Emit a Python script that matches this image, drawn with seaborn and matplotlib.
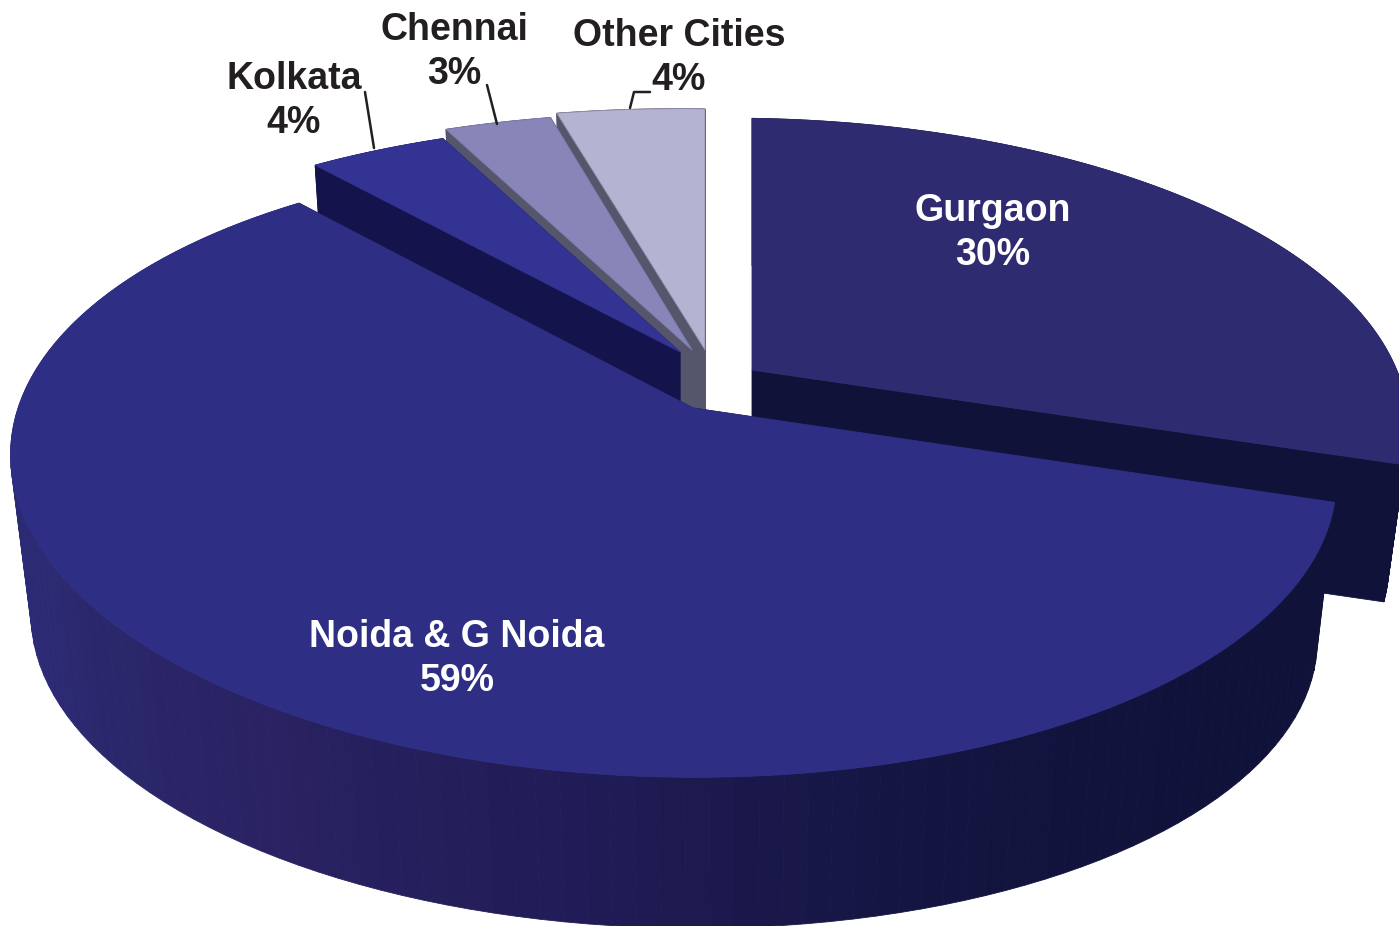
import numpy as np
import matplotlib
matplotlib.use('Agg')
import matplotlib.pyplot as plt
from matplotlib.patches import Polygon
import seaborn as sns

# Data
cities = ['Gurgaon', 'Noida & G Noida', 'Kolkata', 'Chennai', 'Other Cities']
shares = [30, 59, 4, 3, 4]

# Colours
face_colors = ['#2f2b70', '#2e2e85', '#333394', '#8886b8', '#b5b3d2']
edge_colors = ['#2f2b70', '#2e2e85', '#333394', '#7f7db0', '#8f8ea8']
wall_colors = ['#10123a', '#10123a', '#15134c', '#55556c', '#55556c']

# Layout of each slice in pixels: where its point sits, its size
apex_x = [752, 693, 680, 692, 705]
apex_y = [370, 408, 352, 350, 350]
radius_x = [0.993, 0.9614, 0.94, 0.98, 1.03]
radius_y = [1.01, 1.005, 0.905, 0.94, 0.96]
skew = [0, -33, 0, 0, 0]
drop = [140, 162, 162, 162, 162]
label_x = [993, 457, 294, 454, 679]
label_y = [233, 659, 101, 52, 58]
label_colors = ['white', 'white', '#231f20', '#231f20', '#231f20']

# Fake 3D camera
RX, RY = 675, 297
K, M = 0.19, 0.04
BOTTOM_SCALE = 0.97
DRAW_ORDER = [4, 3, 2, 0, 1]

sns.set_theme(style='white')
plt.rcParams['font.family'] = ['Liberation Sans', 'DejaVu Sans']

fig = plt.figure(figsize=(13.99, 9.26), dpi=100)
ax = fig.add_axes([0, 0, 1, 1])

# let pie work out the angles, then redraw the wedges in perspective
wedges, _ = ax.pie(shares, startangle=90, counterclock=False, colors=face_colors)
angles = [(w.theta1, w.theta2) for w in wedges]
for w in wedges:
    w.remove()
ax.set_aspect('auto')
ax.set_xlim(0, 1399)
ax.set_ylim(926, 0)
ax.axis('off')


def project(theta, i, low=False):
    u = radius_x[i] * np.cos(np.radians(theta))
    v = radius_y[i] * np.sin(np.radians(theta))
    den = 1 + K * v + M * u
    scale = BOTTOM_SCALE if low else 1.0
    x = apex_x[i] + scale * RX * u / den + skew[i] * v
    y = apex_y[i] + (drop[i] if low else 0) - scale * RY * v / den
    return x, y


def add_poly(points, color, z, edge=None):
    ax.add_patch(Polygon(points, closed=True, facecolor=color, edgecolor=edge or color,
                         linewidth=0.6, zorder=z))


# gradient along the front wall of the big slice, left to right
noida_wall = sns.blend_palette(['#2b2b7a', '#2c2a72', '#2a2262', '#201c56', '#13143f', '#10123a', '#10123a'], 60)

for order, i in enumerate(DRAW_ORDER):
    t1, t2 = angles[i]
    z = 2 + order
    top_apex = (apex_x[i], apex_y[i])
    low_apex = (apex_x[i], apex_y[i] + drop[i])
    # straight cut walls
    for t in (t1, t2):
        add_poly([top_apex, project(t, i), project(t, i, True), low_apex], wall_colors[i], z)
    # outer wall in thin strips
    ts = np.linspace(t1, t2, 120)
    for a, b in zip(ts[:-1], ts[1:]):
        if i == 1:
            # t runs from the far left round the front to the right
            frac = np.clip((b % 360 - 180) / (340 - 180), 0, 1)
            color = noida_wall[int(frac * 59)]
        else:
            color = wall_colors[i]
        add_poly([project(a, i), project(b, i), project(b, i, True), project(a, i, True)], color, z)
    # top face
    arc = [project(t, i) for t in np.linspace(t1, t2, 200)]
    add_poly([top_apex] + arc, face_colors[i], z, edge_colors[i])

# leader lines
ax.plot([365, 374], [92, 148], color='#231f20', lw=1.8, zorder=20)
ax.plot([487, 497], [85, 124], color='#231f20', lw=1.8, zorder=20)
ax.plot([630, 634, 650], [108, 92, 92], color='#231f20', lw=1.8, zorder=20)

for i, name in enumerate(cities):
    ax.text(label_x[i], label_y[i], f'{name}\n{shares[i]}%', color=label_colors[i],
            fontsize=27, fontweight='bold', ha='center', va='center',
            linespacing=1.26, zorder=30)

fig.savefig('out.png', dpi=100, facecolor='white')
